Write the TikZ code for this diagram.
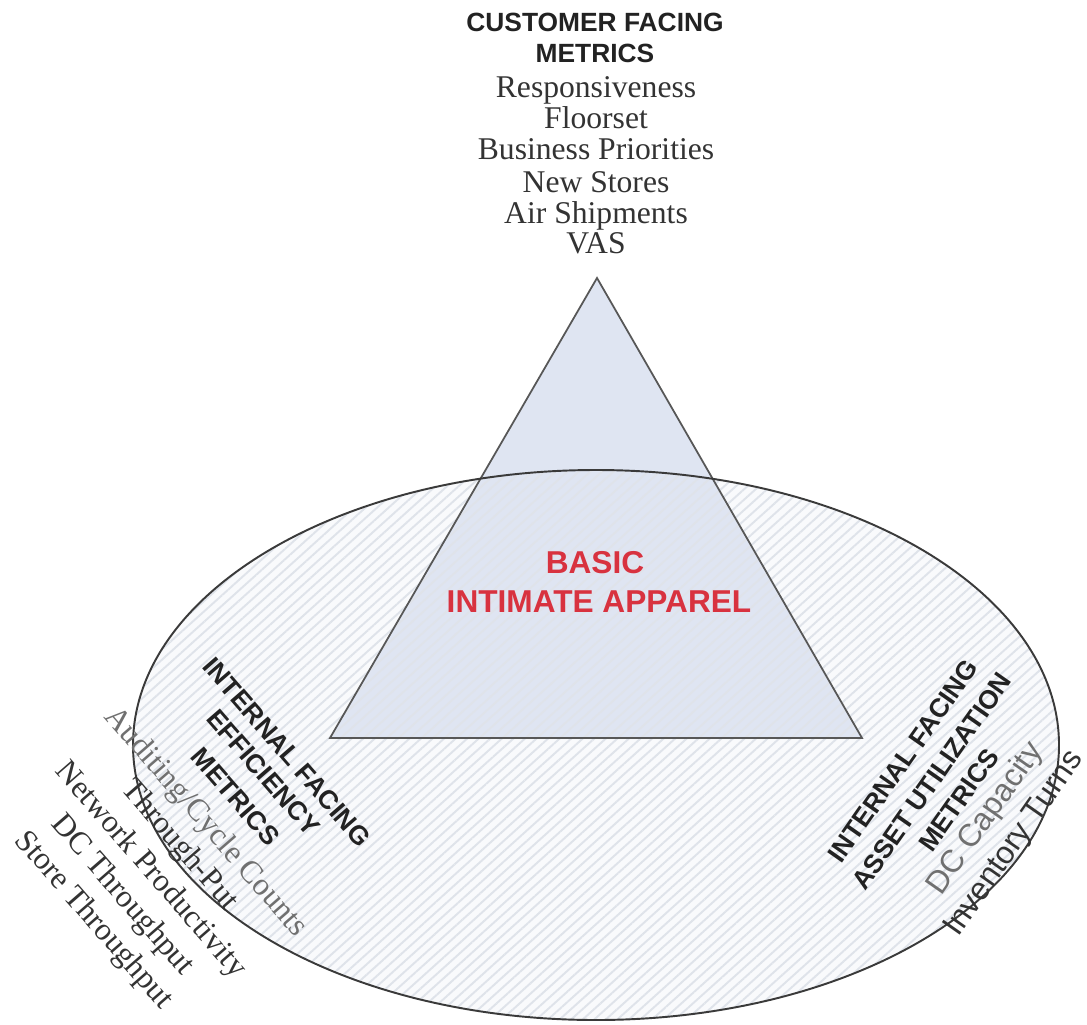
\documentclass[tikz,border=0pt]{standalone}
\usepackage{fontspec}
\setmainfont{Liberation Serif}
\setsansfont{Liberation Sans}
\usetikzlibrary{patterns.meta}

\definecolor{triFill}{HTML}{DFE5F2}
\definecolor{ellFill}{HTML}{F9FAFC}
\definecolor{hatch}{HTML}{DFE3EA}
\definecolor{coreRed}{HTML}{D8323F}
\definecolor{ink}{HTML}{222222}
\definecolor{itemInk}{HTML}{333333}
\definecolor{soft}{HTML}{707070}
\definecolor{edge}{HTML}{3A3A3A}

\tikzset{
  head/.style={font=\fontsize{15}{16}\selectfont\sffamily\bfseries, text=ink, inner sep=0pt},
  item/.style={font=\fontsize{18}{19}\selectfont\rmfamily, text=itemInk, inner sep=0pt},
  itemsans/.style={font=\fontsize{18}{19}\selectfont\sffamily, text=itemInk, inner sep=0pt},
  core/.style={font=\fontsize{18}{19}\selectfont\sffamily\bfseries, text=coreRed, inner sep=0pt},
  hatching/.style={pattern={Lines[angle=42,distance=4.4pt,line width=1.1pt]}, pattern color=hatch},
}

\begin{document}
\begin{tikzpicture}[x=0.02cm,y=0.02cm]
  % page frame
  \fill[white] (0,-1024) rectangle (1087,0);
  \useasboundingbox (0,-1024) rectangle (1087,0);

  % pyramid corners and oval centre
  \coordinate (apex) at (597,-278);
  \coordinate (bl) at (330,-738);
  \coordinate (br) at (862,-738);
  \coordinate (oval) at (596,-745);

  % fills: oval, pyramid, then hatching across the oval
  \fill[ellFill] (oval) ellipse [x radius=463, y radius=275];
  \fill[triFill] (apex) -- (bl) -- (br) -- cycle;
  \fill[hatching] (oval) ellipse [x radius=463, y radius=275];

  % outlines
  \draw[edge!85, line width=1pt, line join=miter] (apex) -- (bl) -- (br) -- cycle;
  \draw[edge, line width=1.1pt] (oval) ellipse [x radius=463, y radius=275];

  % customer facing metrics (top)
  \node[head, anchor=base] (cf1) at (595,-32) {CUSTOMER FACING};
  \node[head, anchor=base] (cf2) at (595,-63) {METRICS};
  \node[item, anchor=base] (cm1) at (596,-97) {Responsiveness};
  \node[item, anchor=base] (cm2) at (596,-128) {Floorset};
  \node[item, anchor=base] (cm3) at (596,-159) {Business Priorities};
  \node[item, anchor=base] (cm4) at (596,-192) {New Stores};
  \node[item, anchor=base] (cm5) at (596,-223) {Air Shipments};
  \node[item, anchor=base] (cm6) at (596,-253) {VAS};

  % centre label
  \node[core, anchor=base] (core1) at (595,-573) {BASIC};
  \node[core, anchor=base] (core2) at (599,-612) {INTIMATE APPAREL};

  % internal facing efficiency metrics (lower left)
  \begin{scope}[shift={(287,-752)}, rotate=-49]
    \node[head, rotate=-49] (ef1) at (0,0) {INTERNAL FACING};
    \node[head, rotate=-49] (ef2) at (0,-31) {EFFICIENCY};
    \node[head, rotate=-49] (ef3) at (0,-68) {METRICS};
    \node[item, rotate=-49, text=soft] (ef4) at (0,-108) {Auditing/Cycle Counts};
    \node[item, rotate=-49] (ef5) at (0,-143) {Through-Put};
    \node[item, rotate=-49] (ef6) at (0,-181) {Network Productivity};
    \node[item, rotate=-49] (ef7) at (0,-219) {DC Throughput};
    \node[item, rotate=-49] (ef8) at (0,-257) {Store Throughput};
  \end{scope}

  % internal facing asset utilization metrics (lower right)
  \begin{scope}[shift={(903,-761)}, rotate=55]
    \node[head, rotate=55] (au1) at (0,0) {INTERNAL FACING};
    \node[head, rotate=55] (au2) at (0,-35) {ASSET UTILIZATION};
    \node[head, rotate=55] (au3) at (0,-68) {METRICS};
    \node[itemsans, rotate=55, text=soft] (au4) at (0,-101) {DC Capacity};
    \node[itemsans, rotate=55] (au5) at (-4,-139) {Inventory Turns};
  \end{scope}
\end{tikzpicture}
\end{document}
